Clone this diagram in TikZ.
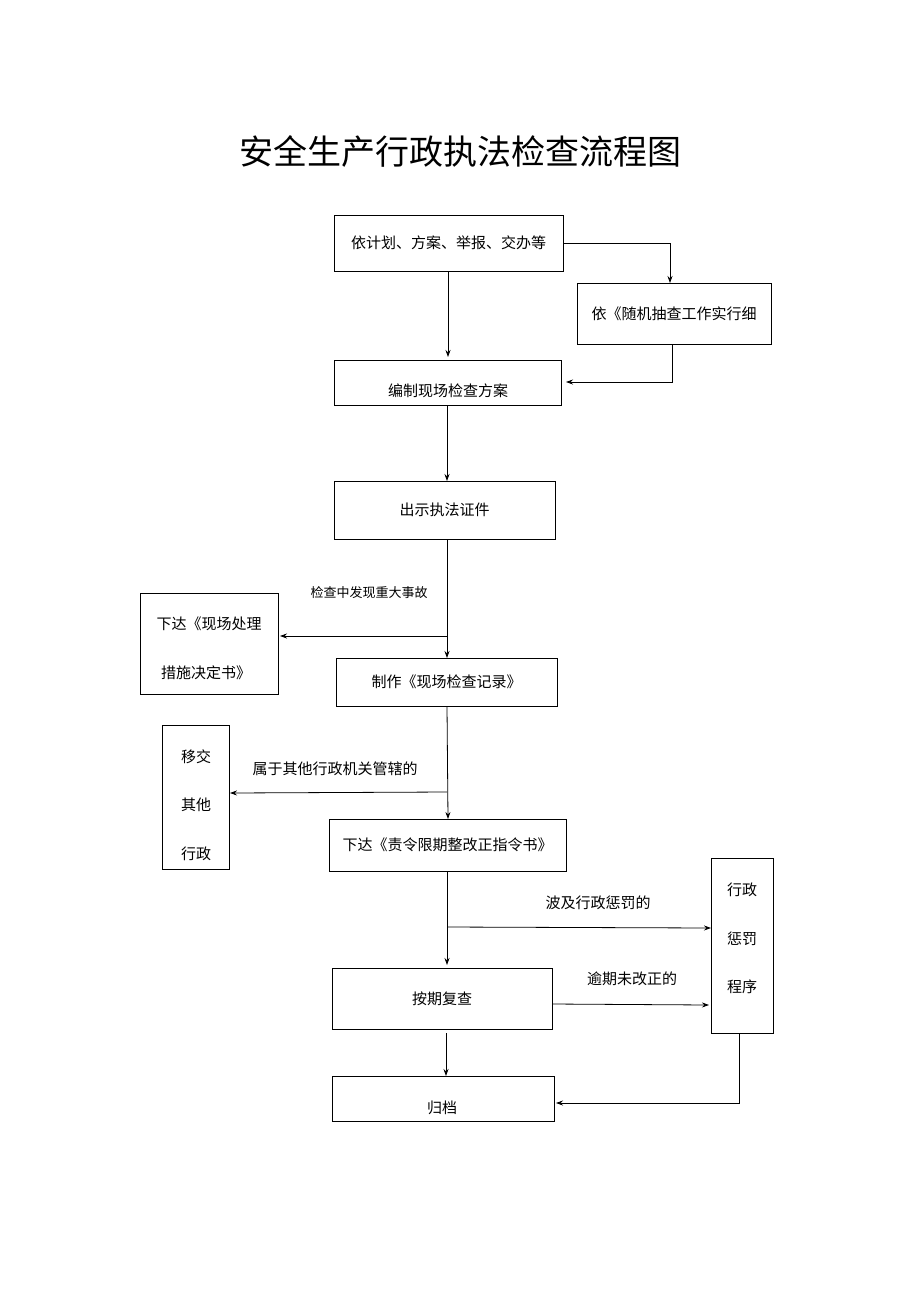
\documentclass[tikz,border=0pt]{standalone}
\usepackage{fontspec}
\setmainfont{Noto Sans CJK SC}
\usetikzlibrary{arrows.meta}
\begin{document}
\begin{tikzpicture}[x=1pt,y=-1pt,
 box/.style={draw,line width=0.8pt,inner sep=0},
 t/.style={font=\fontsize{15}{18}\selectfont,inner sep=0},
 a/.style={line width=0.8pt,-{Stealth[length=7pt,width=5pt]}},
 l/.style={line width=0.8pt}]
\useasboundingbox (0,0) rectangle (920,1302);
\node[font=\fontsize{34}{40}\selectfont] (title) at (460,152) {安全生产行政执法检查流程图};
\draw[box] (334,215) rectangle (563,271) node[midway,t] (b1) {依计划、方案、举报、交办等};
\draw[box] (577,283) rectangle (771,344) node[midway,t] (b2) {依《随机抽查工作实行细};
\draw[box] (334,360) rectangle (561,405);
\node[t] (b3) at (448,391) {编制现场检查方案};
\draw[box] (334,481) rectangle (555,539) node[midway,t] (b4) {出示执法证件};
\draw[box] (140,593) rectangle (278,694);
\node[t] (b5a) at (209,624) {下达《现场处理};
\node[t] (b5b) at (206,673) {措施决定书》};
\draw[box] (336,658) rectangle (557,706) node[midway,t] (b6) {制作《现场检查记录》};
\draw[box] (162,725) rectangle (229,869);
\node[t] at (196,757) {移交};\node[t] at (196,805) {其他};\node[t] at (196,854) {行政};
\draw[box] (329,819) rectangle (566,871) node[midway,t] (b8) {下达《责令限期整改正指令书》};
\draw[box] (711,858) rectangle (773,1033);
\node[t] at (742,890) {行政};\node[t] at (742,939) {惩罚};\node[t] at (742,987) {程序};
\draw[box] (332,968) rectangle (552,1029) node[midway,t] (b10) {按期复查};
\draw[box] (332,1076) rectangle (554,1121);
\node[t] (b11) at (442,1108) {归档};
\draw[a] (563,243) -- (670,243) -- (670,283);
\draw[a] (448,271) -- (448,357);
\draw[a] (672,344) -- (672,382) -- (566,382);
\draw[a] (447,405) -- (447,481);
\draw[a] (447,539) -- (447,658);
\draw[a] (447,636) -- (280,636);
\node[font=\fontsize{13}{16}\selectfont] at (369,593) {检查中发现重大事故};
\draw[a] (447,706) -- (448,819);
\draw[a] (447,792) -- (230,793);
\node[t] at (335,769) {属于其他行政机关管辖的};
\draw[a] (447,871) -- (447,965);
\draw[a] (447,927) -- (711,928);
\node[t] at (598,903) {波及行政惩罚的};
\draw[a] (552,1004) -- (709,1005);
\node[t] at (632,979) {逾期未改正的};
\draw[a] (446,1033) -- (446,1076);
\draw[a] (739,1033) -- (739,1103) -- (556,1103);
\end{tikzpicture}
\end{document}
